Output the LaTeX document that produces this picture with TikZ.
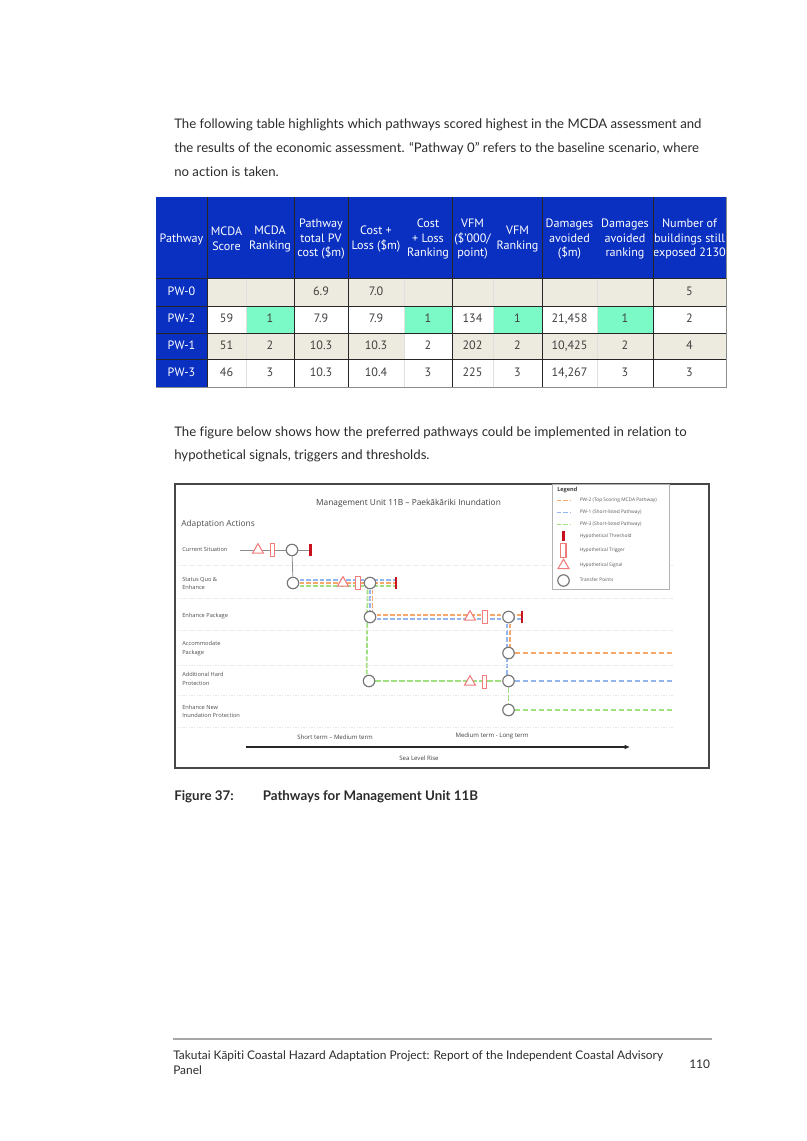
\documentclass[tikz,border=0pt]{standalone}
\usepackage{fontspec}
\usetikzlibrary{shapes.geometric,backgrounds,arrows.meta}
\setmainfont{Lato}[Ligatures=NoCommon]
\newfontfamily\tabfont{PT Sans}
\newfontfamily\figfont{Open Sans}
\definecolor{hdr}{HTML}{0A30C2}
\definecolor{beige}{HTML}{EDEADF}
\definecolor{mint}{HTML}{7BF9C6}
\definecolor{ink}{HTML}{2B2B2B}
\definecolor{pw2}{HTML}{F7A768}
\definecolor{pw1}{HTML}{93B5F0}
\definecolor{pw3}{HTML}{A0E080}
\definecolor{redm}{HTML}{F07C7C}
\definecolor{redt}{HTML}{C8101E}
\definecolor{ringc}{HTML}{777777}
\tikzset{
  x=0.75pt,y=-0.75pt,
  bodytext/.style={anchor=west,inner sep=0pt,text=ink,font=\fontsize{9.9}{11}\selectfont},
  hcell/.style={midway,yshift=-1.2pt,inner sep=0pt,align=center,text=white,font=\tabfont\fontsize{9.1}{11.1}\selectfont},
  pcell/.style={midway,inner sep=0pt,text=white,text height=6.5pt,text depth=1.5pt,font=\tabfont\fontsize{9.1}{11}\selectfont},
  dcell/.style={midway,inner sep=0pt,text=ink!90,text height=6.5pt,text depth=1.5pt,font=\tabfont\fontsize{9.1}{11}\selectfont},
  tabrule/.style={draw=black!85,line width=0.7pt},
  softrule/.style={draw=black!12,line width=0.5pt},
  figlabel/.style={anchor=west,inner sep=0pt,align=left,text=black!70,font=\figfont\fontsize{4.25}{6.2}\selectfont},
  figcaption/.style={inner sep=0pt,text=black!75,font=\figfont\fontsize{4.55}{6}\selectfont},
  legendtext/.style={anchor=west,inner sep=0pt,text=black!65,font=\figfont\fontsize{3.6}{4}\selectfont},
  ring/.style={circle,draw=ringc,fill=white,line width=0.9pt,minimum size=8.6pt,inner sep=0pt},
  signalmark/.style={regular polygon,regular polygon sides=3,draw=redm,fill=white,line width=0.8pt,minimum size=9.5pt,inner sep=0pt},
  triggermark/.style={rectangle,draw=redm,fill=white,line width=0.8pt,minimum width=3.6pt,minimum height=10pt,inner sep=0pt},
  thresholdmark/.style={rectangle,fill=redt,minimum width=2pt,minimum height=9.5pt,inner sep=0pt},
  plainlink/.style={draw=black!45,line width=0.6pt},
  pathtwo/.style={draw=pw2,line width=1.3pt,dash pattern=on 3.6pt off 1.4pt},
  pathone/.style={draw=pw1,line width=1.3pt,dash pattern=on 3.6pt off 1.4pt},
  paththree/.style={draw=pw3,line width=1.3pt,dash pattern=on 3.6pt off 1.4pt},
  thinpath/.style={line width=0.95pt,dash pattern=on 4pt off 2pt},
  rowline/.style={draw=black!10,line width=0.4pt,dash pattern=on 1pt off 1pt},
  captext/.style={anchor=west,inner sep=0pt,text=ink,font=\bfseries\fontsize{10}{11}\selectfont},
}
\newcommand{\hc}[4]{\fill[hdr] (#2,197) rectangle node[hcell] (#1) {#4} (#3,278);}
\def\drow#1#2#3#4#5#6#7#8#9{%
  \fill[hdr] (156,#2) rectangle node[pcell] (#1p) {#4} (207,#3);
  \fill[#5] (207,#2) rectangle node[dcell] (#1a) {#6} (246,#3);
  \fill[#7] (246,#2) rectangle node[dcell] (#1b) {#8} (294,#3);
  \fill[#5] (294,#2) rectangle node[dcell] (#1c) {#9} (348,#3);
  \drowb{#1}{#2}{#3}{#5}{#7}}
\def\drowb#1#2#3#4#5#6#7#8#9{%
  \fill[#4] (348,#2) rectangle node[dcell] (#1d) {#6} (404,#3);
  \drowc{#1}{#2}{#3}{#4}{#5}{#7}{#8}{#9}}
\def\drowc#1#2#3#4#5#6#7#8{%
  \fill[#6] (404,#2) rectangle node[dcell] (#1e) {#7} (452,#3);
  \fill[#4] (452,#2) rectangle node[dcell] (#1f) {#8} (493,#3);
  \drowd{#1}{#2}{#3}{#4}{#5}}
\def\drowd#1#2#3#4#5#6#7#8#9{%
  \fill[#5] (493,#2) rectangle node[dcell] (#1g) {#6} (542,#3);
  \fill[#4] (542,#2) rectangle node[dcell] (#1h) {#7} (597,#3);
  \fill[#5] (597,#2) rectangle node[dcell] (#1i) {#8} (653,#3);
  \fill[#4] (653,#2) rectangle node[dcell] (#1j) {#9} (726,#3);}
\begin{document}
\begin{tikzpicture}
\useasboundingbox (0,0) rectangle (806,1141);
% body text
\node[bodytext] (t1) at (174,125) {The following table highlights which pathways scored highest in the MCDA assessment and};
\node[bodytext] (t2) at (174,148.5) {the results of the economic assessment. “Pathway 0” refers to the baseline scenario, where};
\node[bodytext] (t3) at (174,172) {no action is taken.};
\node[bodytext] (t4) at (174,433) {The figure below shows how the preferred pathways could be implemented in relation to};
\node[bodytext] (t5) at (174,456) {hypothetical signals, triggers and thresholds.};
% table header
\hc{h0}{156}{207}{Pathway}
\hc{h1}{207}{246}{MCDA\\Score}
\hc{h2}{246}{294}{MCDA\\Ranking}
\hc{h3}{294}{348}{Pathway\\total PV\\cost (\$m)}
\hc{h4}{348}{404}{Cost +\\Loss (\$m)}
\hc{h5}{404}{452}{Cost\\+ Loss\\Ranking}
\hc{h6}{452}{493}{VFM\\(\$’000/\\point)}
\hc{h7}{493}{542}{VFM\\Ranking}
\hc{h8}{542}{597}{Damages\\avoided\\(\$m)}
\hc{h9}{597}{653}{Damages\\avoided\\ranking}
\hc{h10}{653}{726}{Number of\\buildings still\\exposed 2130}
% table rows: name, y1, y2, label, row colour, a, ranking colour, b, c | d, e-colour, e, f | g, h, i, j
\drow{r0}{278}{306}{PW-0}{beige}{}{beige}{}{6.9}{7.0}{beige}{}{}{}{}{}{5}
\drow{r1}{306}{333}{PW-2}{white}{59}{mint}{1}{7.9}{7.9}{mint}{1}{134}{1}{21,458}{1}{2}
\drow{r2}{333}{359}{PW-1}{beige}{51}{beige}{2}{10.3}{10.3}{white}{2}{202}{2}{10,425}{2}{4}
\drow{r3}{359}{387}{PW-3}{white}{46}{white}{3}{10.3}{10.4}{white}{3}{225}{3}{14,267}{3}{3}
% soft dividers
\foreach \xx in {246,404,493,597}{\draw[softrule] (\xx,278) -- (\xx,387);}
% strong rules
\foreach \xx in {207,294,348,452,542,653}{\draw[tabrule] (\xx,197) -- (\xx,387);}
\foreach \yy in {278,306,333,359}{\draw[tabrule] (156,\yy) -- (726,\yy);}
\draw[draw=black!45,line width=1pt] (156,387.3) -- (726.3,387.3) -- (726.3,197);
% figure frame
\draw[draw=black!72,line width=0.8pt] (175,484) rectangle (709,768);
\foreach \yy in {565,598,630,665,695,727}{\draw[rowline] (178,\yy) -- (673,\yy);}
% titles
\node[figcaption,font=\figfont\fontsize{6.25}{7}\selectfont] (title) at (408.5,503) {Management Unit 11B – Paekākāriki Inundation};
\node[figlabel,font=\figfont\fontsize{6.25}{7}\selectfont] (aa) at (181,524) {Adaptation Actions};
\node[figlabel] (l1) at (182,549.5) {Current Situation};
\node[figlabel] (l2) at (182,583.5) {Status Quo \&\\Enhance};
\node[figlabel] (l3) at (182,616.5) {Enhance Package};
\node[figlabel] (l4) at (182,648.5) {Accommodate\\Package};
\node[figlabel] (l5) at (182,679) {Additional Hard\\Protection};
\node[figlabel] (l6) at (182,711.5) {Enhance New\\Inundation Protection};
\node[figcaption] (st) at (335,737) {Short term – Medium term};
\node[figcaption] (mt) at (492,736) {Medium term - Long term};
\node[figcaption] (slr) at (419,758) {Sea Level Rise};
% pathway markers, row 1
\coordinate (start) at (240,550);
\node[signalmark] (s1) at (258,550) {};
\node[triggermark] (g1) at (272.5,550) {};
\node[ring] (c1) at (292,550) {};
\node[thresholdmark] (x1) at (310.5,550) {};
% row 2
\node[ring] (c2) at (293,583) {};
\node[signalmark] (s2) at (343,583) {};
\node[triggermark] (g2) at (358,583) {};
\node[ring] (c3) at (370,583) {};
\node[thresholdmark] (x2) at (396,583) {};
% row 3
\node[ring] (c4) at (370,617) {};
\node[signalmark] (s3) at (470,617) {};
\node[triggermark] (g3) at (485,617) {};
\node[ring] (c5) at (508.5,617) {};
\node[thresholdmark] (x3) at (522,617) {};
% rows 4-6
\node[ring] (c6) at (508.5,653) {};
\node[ring] (c7) at (369,681) {};
\node[signalmark] (s4) at (470,682) {};
\node[triggermark] (g4) at (484.5,682) {};
\node[ring] (c8) at (508.5,681) {};
\node[ring] (c9) at (508.5,710) {};
\coordinate (e6) at (673,653);
\coordinate (e8) at (673,681);
\coordinate (e9) at (673,710);
\begin{scope}[on background layer]
  \draw[plainlink] (start) -- (x1.center);
  \draw[plainlink] (c1) -- (c2);
  \draw[pathone] ([yshift=2.2pt]c2.center) -- ([yshift=2.2pt]x2.center);
  \draw[pathtwo] ([yshift=0pt]c2.center) -- ([yshift=0pt]x2.center);
  \draw[paththree] ([yshift=-2pt]c2.center) -- ([yshift=-2pt]x2.center);
  \draw[paththree] ([xshift=-1.8pt]c3.center) -- ([xshift=-1.8pt]c7.center);
  \draw[pathone] ([xshift=0pt]c3.center) -- ([xshift=0pt]c4.center);
  \draw[pathtwo] ([xshift=1.8pt]c3.center) -- ([xshift=1.8pt]c4.center);
  \draw[pathtwo] ([yshift=1.3pt]c4.center) -- ([yshift=1.3pt]x3.center);
  \draw[pathone] ([yshift=-1.3pt]c4.center) -- ([yshift=-1.3pt]x3.center);
  \draw[pathone] ([xshift=-1pt]c5.center) -- ([xshift=-1pt]c8.center);
  \draw[pathtwo] ([xshift=1.2pt]c5.center) -- ([xshift=1.2pt]c6.center);
  \draw[pathtwo,thinpath] (c6) -- (e6);
  \draw[paththree,thinpath] (c7) -- (c8);
  \draw[pathone,thinpath] (c8) -- (e8);
  \draw[paththree,thinpath] (c8) -- (c9);
  \draw[paththree,thinpath] (c9) -- (e9);
\end{scope}
% time arrow
\coordinate (arA) at (246,747);
\coordinate (arB) at (630,747);
\draw[draw=black!85,line width=1.1pt,-{Latex[length=4pt,width=3.5pt]}] (arA) -- (arB);
% legend
\draw[draw=black!30,fill=white,line width=0.5pt] (552,484.4) rectangle (669,589);
\node[legendtext,font=\figfont\bfseries\fontsize{4.2}{5}\selectfont,text=black!75] (lg) at (557,490.5) {Legend};
\coordinate (k1a) at (557,500.5); \coordinate (k1b) at (570,500.5);
\coordinate (k2a) at (557,512.5); \coordinate (k2b) at (570,512.5);
\coordinate (k3a) at (557,524.5); \coordinate (k3b) at (570,524.5);
\draw[pathtwo,line width=0.95pt,dash pattern=on 3.2pt off 1.6pt] (k1a) -- (k1b);
\draw[pathone,line width=0.95pt,dash pattern=on 3.2pt off 1.6pt] (k2a) -- (k2b);
\draw[paththree,line width=0.95pt,dash pattern=on 3.2pt off 1.6pt] (k3a) -- (k3b);
\node[legendtext] (k1) at (579.5,500.5) {PW-2 (Top Scoring MCDA Pathway)};
\node[legendtext] (k2) at (579.5,512.5) {PW-1 (Short-listed Pathway)};
\node[legendtext] (k3) at (579.5,524.5) {PW-3 (Short-listed Pathway)};
\node[thresholdmark,minimum height=8pt] (km) at (563.5,536) {};
\node[triggermark,minimum width=4.2pt] (kg) at (563.2,550.5) {};
\node[signalmark] (ks) at (563.5,565.5) {};
\node[ring] (kc) at (563.5,580.5) {};
\node[legendtext] (k4) at (579.5,536) {Hypothetical Threshold};
\node[legendtext] (k5) at (579.5,550.5) {Hypothetical Trigger};
\node[legendtext] (k6) at (579.5,565) {Hypothetical Signal};
\node[legendtext] (k7) at (579.5,580) {Transfer Points};
% caption
\node[captext] (fa) at (174,797) {Figure 37:};
\node[captext] (fb) at (262.5,797) {Pathways for Management Unit 11B};
% footer
\coordinate (fl) at (173,1039);
\coordinate (fr) at (711.5,1039);
\draw[draw=black!35,line width=1pt] (fl) -- (fr);
\node[bodytext,font=\fontsize{8.93}{11}\selectfont] (f1) at (173,1056) {Takutai Kāpiti Coastal Hazard Adaptation Project: Report of the Independent Coastal Advisory};
\node[bodytext,font=\fontsize{8.93}{11}\selectfont] (f2) at (173,1070) {Panel};
\node[bodytext,font=\fontsize{8.93}{11}\selectfont] (pg) at (689,1064) {110};
\end{tikzpicture}
\end{document}
